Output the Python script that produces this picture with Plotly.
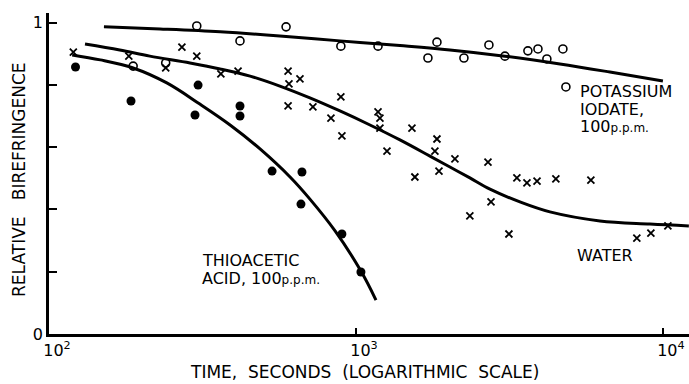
import plotly.graph_objects as go

# ---- data (time in seconds, relative birefringence) ----
iodate_t = [188, 240, 303, 419, 592, 893, 1180, 1716, 1836, 2248, 2711, 3057, 3632, 3917, 4188, 4723, 4830]
iodate_b = [0.860, 0.870, 0.989, 0.941, 0.986, 0.924, 0.924, 0.886, 0.937, 0.886, 0.928, 0.892, 0.909, 0.915, 0.883, 0.915, 0.793]
iodate_fit_t = [151, 230, 361, 565, 887, 1391, 2024, 3057, 4618, 6721, 10000]
iodate_fit_b = [0.986, 0.979, 0.970, 0.957, 0.941, 0.926, 0.912, 0.892, 0.867, 0.841, 0.812]

water_t = [120, 182, 240, 271, 303, 363, 413, 601, 605, 657, 601, 724, 893, 829, 900, 1180, 1197, 1197,
           1262, 1522, 1556, 1836, 1808, 1864, 2101, 2692, 2350, 2754, 3150, 3344, 3606, 3890, 4480,
           5825, 8224, 9137, 10380]
water_b = [0.905, 0.892, 0.854, 0.921, 0.892, 0.835, 0.844, 0.844, 0.803, 0.819, 0.732, 0.729, 0.761, 0.693,
           0.636, 0.713, 0.693, 0.661, 0.587, 0.661, 0.504, 0.626, 0.587, 0.523, 0.562, 0.552, 0.379,
           0.424, 0.321, 0.501, 0.485, 0.491, 0.498, 0.494, 0.308, 0.324, 0.347]
water_fit_t = [131, 170, 213, 288, 361, 452, 565, 708, 887, 1111, 1391, 1742, 2024, 2351, 2733, 3422,
               4285, 6233, 9073, 12150]
water_fit_b = [0.931, 0.912, 0.892, 0.870, 0.851, 0.828, 0.796, 0.758, 0.716, 0.671, 0.623, 0.571, 0.536,
               0.501, 0.465, 0.424, 0.392, 0.363, 0.353, 0.347]

thio_t = [122, 185, 306, 299, 419, 419, 533, 667, 662, 900, 1038]
thio_b = [0.857, 0.748, 0.799, 0.703, 0.732, 0.700, 0.523, 0.520, 0.417, 0.321, 0.199]
thio_fit_t = [119, 147, 188, 242, 310, 389, 487, 610, 708, 855, 1038, 1162]
thio_fit_b = [0.896, 0.880, 0.854, 0.806, 0.738, 0.671, 0.594, 0.504, 0.433, 0.331, 0.202, 0.109]

x_tick_vals = [100, 1000, 10000]
x_tick_text = ["10<sup>2</sup>", "10<sup>3</sup>", "10<sup>4</sup>"]
y_tick_vals = [0, 0.2, 0.4, 0.6, 0.8, 1.0]
y_tick_text = ["0", "", "", "", "", "1"]

FONT = "DejaVu Sans"
line_style = dict(color="black", width=3, shape="spline", smoothing=1.0)

fig = go.Figure()
for ft, fb in [(iodate_fit_t, iodate_fit_b), (water_fit_t, water_fit_b), (thio_fit_t, thio_fit_b)]:
    fig.add_trace(go.Scatter(x=ft, y=fb, mode="lines", line=line_style, hoverinfo="skip"))

fig.add_trace(go.Scatter(x=iodate_t, y=iodate_b, mode="markers",
                         marker=dict(symbol="circle-open", size=8, color="black", line=dict(width=1.6))))
fig.add_trace(go.Scatter(x=water_t, y=water_b, mode="markers",
                         marker=dict(symbol="x-thin", size=7, color="black", line=dict(width=1.8, color="black"))))
fig.add_trace(go.Scatter(x=thio_t, y=thio_b, mode="markers",
                         marker=dict(symbol="circle", size=9, color="black")))

fig.update_layout(
    width=689, height=384,
    margin=dict(l=49, r=0, t=13, b=50),
    paper_bgcolor="white", plot_bgcolor="white",
    showlegend=False,
    font=dict(family=FONT, color="black", size=14),
)
fig.update_xaxes(type="log", range=[2, 4.085], showgrid=False, zeroline=False, automargin=False,
                 showline=True, linecolor="black", linewidth=2.5,
                 tickvals=x_tick_vals, ticktext=x_tick_text, ticks="inside", ticklen=6,
                 tickwidth=1.5, tickcolor="black", tickfont=dict(size=16), ticklabelshift=8)
fig.update_yaxes(range=[0, 1.0305], showgrid=False, zeroline=False, automargin=False,
                 showline=True, linecolor="black", linewidth=2.5,
                 tickvals=y_tick_vals, ticktext=y_tick_text, ticks="inside", ticklen=8,
                 tickwidth=1.5, tickcolor="black", tickfont=dict(size=16))

small = '<span style="font-size:12px">p.p.m.</span>'
labels = [
    ("THIOACETIC", 0.2359, 0.2300),
    ("ACID, 100" + small, 0.2359, 0.1740),
    ("POTASSIUM", 0.8266, 0.7550),
    ("IODATE,", 0.8266, 0.6990),
    ("100" + small, 0.8266, 0.6460),
]
for txt, x, y in labels:
    fig.add_annotation(text=txt, x=x, y=y, xref="paper", yref="paper",
                       xanchor="left", yanchor="middle", align="left", showarrow=False,
                       font=dict(family=FONT, size=16, color="black"))
fig.add_annotation(text="WATER", x=0.8688, y=0.2460, xref="paper", yref="paper",
                   xanchor="center", yanchor="middle", showarrow=False,
                   font=dict(family=FONT, size=16, color="black"))
fig.add_annotation(text="TIME,  SECONDS  (LOGARITHMIC  SCALE)", x=0.4922, y=-0.118,
                   xref="paper", yref="paper", xanchor="center", yanchor="middle", showarrow=False,
                   font=dict(family=FONT, size=17, color="black"))
fig.add_annotation(text="RELATIVE   BIREFRINGENCE", x=-0.0469, y=0.4829, xref="paper", yref="paper",
                   textangle=-90, showarrow=False, xanchor="center", yanchor="middle",
                   font=dict(family=FONT, size=17, color="black"))

fig.write_html("out.html", config={"displayModeBar": False},
               post_script="document.body.style.margin='0';document.body.style.overflow='hidden';")
